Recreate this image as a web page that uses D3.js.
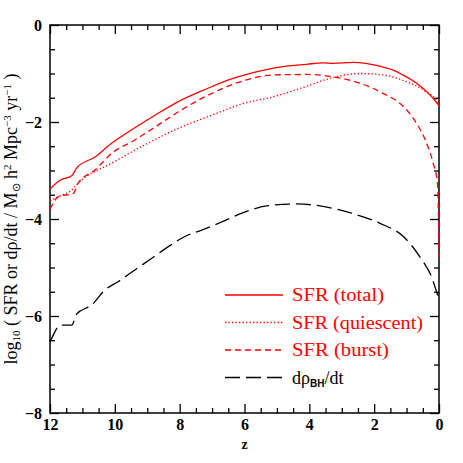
<!DOCTYPE html>
<html>
<head>
<meta charset="utf-8">
<script src="https://cdn.jsdelivr.net/npm/d3@7"></script>
<style>
  body { margin: 0; background: #fff; }
  svg { display: block; }
</style>
</head>
<body>
<div class="container"></div>
<script>
// redshift values, high z first
const zTotal = [12, 11.69, 11.33, 11.18, 10.61, 10.1, 9.48, 8.76, 8.04, 7.22, 6.4, 5.99, 5.11, 4.08, 3.58, 3.26, 2.64, 1.82, 1.31, 1.2, 0.69, 0.28, 0];
const sfrTotal = [-3.38, -3.2, -3.11, -2.95, -2.72, -2.44, -2.16, -1.86, -1.58, -1.33, -1.11, -1.03, -0.89, -0.81, -0.78, -0.79, -0.77, -0.85, -0.96, -1.0, -1.2, -1.44, -1.66];

const zQuiet = [12, 11.74, 11.33, 11.13, 10.1, 9.07, 8.04, 7.01, 5.99, 5.11, 4.29, 3.36, 2.44, 1.72, 1.0, 0.49, 0.02, 0];
const sfrQuiet = [-3.62, -3.54, -3.4, -3.26, -2.85, -2.47, -2.13, -1.86, -1.61, -1.48, -1.31, -1.1, -1.0, -1.03, -1.17, -1.34, -1.61, -1.68];

const zBurst = [12, 11.74, 11.28, 11.13, 10.61, 10.1, 9.38, 8.66, 8.04, 7.22, 5.99, 5.11, 4.08, 3.26, 2.44, 1.72, 1.1, 0.69, 0.38, 0.18, 0.05, 0.02, 0];
const sfrBurst = [-3.8, -3.54, -3.47, -3.26, -2.99, -2.65, -2.37, -2.06, -1.79, -1.48, -1.14, -1.03, -1.02, -1.07, -1.2, -1.41, -1.68, -2.03, -2.44, -2.85, -3.25, -3.8, -4.8];

const zBH = [12, 11.95, 11.69, 11.33, 11.18, 10.71, 10.3, 9.89, 9.38, 8.86, 8.35, 7.84, 7.32, 6.7, 6.04, 5.32, 4.39, 3.67, 2.75, 1.82, 1.1, 0.59, 0.23, 0.02, 0];
const bhRate = [-6.52, -6.46, -6.19, -6.19, -5.96, -5.77, -5.46, -5.29, -5.05, -4.81, -4.57, -4.36, -4.23, -4.06, -3.87, -3.73, -3.69, -3.73, -3.87, -4.09, -4.36, -4.78, -5.19, -5.6, -5.63];

const xMajor = [12, 10, 8, 6, 4, 2, 0];
const yMajor = [0, -2, -4, -6, -8];

const WIDTH = 463;
const HEIGHT = 463;
const LEFT = 50, RIGHT = 439, TOP = 25, BOTTOM = 413;

var svg = d3.select('.container').append('svg')
    .attr('width', WIDTH)
    .attr('height', HEIGHT);

var xScale = d3.scaleLinear().domain([12, 0]).range([LEFT, RIGHT]);
var yScale = d3.scaleLinear().domain([-8, 0]).range([BOTTOM, TOP]);

var xMinor = d3.range(0, 12.01, 0.5).filter(function (v) { return v % 2 !== 0; });
var yMinor = d3.range(-8, 0.01, 0.5).filter(function (v) { return v % 2 !== 0; });

var fmt = function (d) { return d < 0 ? '\u2212' + (-d) : '' + d; };

var drawAxis = function (axis, tx, ty, labels) {
    var g = svg.append('g').attr('transform', 'translate(' + tx + ',' + ty + ')').call(axis);
    g.select('.domain').remove();
    g.selectAll('line').attr('stroke', '#000').attr('stroke-width', 1.3);
    if (!labels) g.selectAll('text').remove();
    return g;
};

// major + minor ticks on all four sides, pointing inward
drawAxis(d3.axisBottom(xScale).tickValues(xMajor).tickSize(-9).tickFormat(fmt).tickPadding(6), 0, BOTTOM, true)
    .selectAll('text').attr('font-family', 'Liberation Serif').attr('font-weight', 'bold').attr('font-size', 16).attr('fill', '#000');
drawAxis(d3.axisBottom(xScale).tickValues(xMinor).tickSize(-5).tickFormat(''), 0, BOTTOM, false);
drawAxis(d3.axisTop(xScale).tickValues(xMajor).tickSize(-9), 0, TOP, false);
drawAxis(d3.axisTop(xScale).tickValues(xMinor).tickSize(-5), 0, TOP, false);
drawAxis(d3.axisLeft(yScale).tickValues(yMajor).tickSize(-9).tickFormat(fmt).tickPadding(8), LEFT, 0, true)
    .selectAll('text').attr('font-family', 'Liberation Serif').attr('font-weight', 'bold').attr('font-size', 16).attr('fill', '#000');
drawAxis(d3.axisLeft(yScale).tickValues(yMinor).tickSize(-5).tickFormat(''), LEFT, 0, false);
drawAxis(d3.axisRight(yScale).tickValues(yMajor).tickSize(-9), RIGHT, 0, false);
drawAxis(d3.axisRight(yScale).tickValues(yMinor).tickSize(-5), RIGHT, 0, false);

svg.append('rect')
    .attr('x', LEFT).attr('y', TOP)
    .attr('width', RIGHT - LEFT).attr('height', BOTTOM - TOP)
    .attr('fill', 'none').attr('stroke', '#000').attr('stroke-width', 1.5);

// curves
var series = [
    {z: zTotal, v: sfrTotal, color: 'red', dash: null, label: 'SFR (total)', w: 92},
    {z: zQuiet, v: sfrQuiet, color: 'red', dash: '1.3,2.2', label: 'SFR (quiescent)', w: 131},
    {z: zBurst, v: sfrBurst, color: 'red', dash: '6,4', label: 'SFR (burst)', w: 97},
    {z: zBH, v: bhRate, color: 'black', dash: '15,6', label: null, w: 62}
];

var line = d3.line()
    .x(function (d) { return xScale(d[0]); })
    .y(function (d) { return yScale(d[1]); })
    .curve(d3.curveMonotoneX);

series.forEach(function (s) {
    svg.append('path')
        .attr('d', line(d3.zip(s.z, s.v)))
        .attr('fill', 'none')
        .attr('stroke', s.color)
        .attr('stroke-width', 1.3)
        .attr('stroke-dasharray', s.dash);
});

// legend
var legY = [295, 322.5, 350, 377.5];
series.forEach(function (s, i) {
    svg.append('line')
        .attr('x1', 225).attr('x2', 283)
        .attr('y1', legY[i]).attr('y2', legY[i])
        .attr('stroke', s.color).attr('stroke-width', 1.3)
        .attr('stroke-dasharray', s.dash);
    var t = svg.append('text')
        .attr('x', 292).attr('y', legY[i] + 6)
        .attr('font-family', 'Liberation Serif')
        .attr('font-size', 18)
        .attr('fill', s.color);
    if (s.label) {
        t.text(s.label).attr('textLength', s.w).attr('lengthAdjust', 'spacingAndGlyphs');
    } else {
        t.append('tspan').text('d\u03C1');
        t.append('tspan').attr('dy', 3).attr('font-size', 10).attr('font-family', 'Liberation Sans').attr('font-weight', 'bold').text('BH');
        t.append('tspan').attr('dy', -3).text('/dt');
    }
});

// axis titles
svg.append('text')
    .attr('x', (LEFT + RIGHT) / 2).attr('y', 449)
    .attr('text-anchor', 'middle')
    .attr('font-family', 'Liberation Serif').attr('font-weight', 'bold')
    .attr('font-size', 14)
    .text('z');

var yt = svg.append('text')
    .attr('transform', 'translate(17,' + ((TOP + BOTTOM) / 2) + ') rotate(-90)')
    .attr('text-anchor', 'middle')
    .attr('font-family', 'Liberation Serif')
    .attr('font-size', 18);
yt.append('tspan').text('log');
yt.append('tspan').attr('dy', 3).attr('font-size', 11).text('10');
yt.append('tspan').attr('dy', -3).text(' ( SFR or d\u03C1/dt /  M');
yt.append('tspan').attr('dy', 3).attr('font-size', 11).text('\u2299');
yt.append('tspan').attr('dy', -3).text(' h');
yt.append('tspan').attr('dy', -6).attr('font-size', 11).text('2');
yt.append('tspan').attr('dy', 6).text(' Mpc');
yt.append('tspan').attr('dy', -6).attr('font-size', 11).text('\u22123');
yt.append('tspan').attr('dy', 6).text(' yr');
yt.append('tspan').attr('dy', -6).attr('font-size', 11).text('\u22121');
yt.append('tspan').attr('dy', 6).text(' )');
</script>
</body>
</html>
